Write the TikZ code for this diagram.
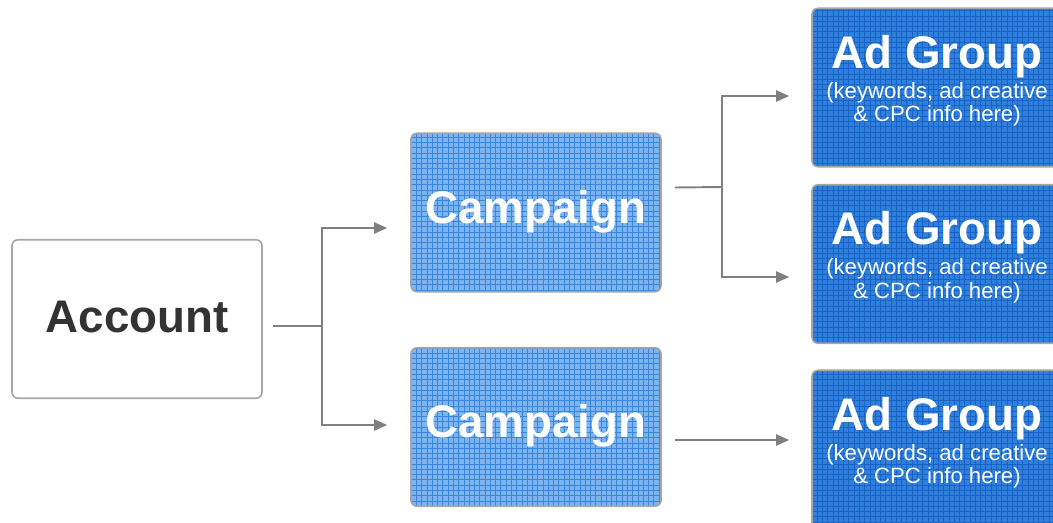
\documentclass[tikz,border=0pt]{standalone}
\usepackage{fontspec}
\setmainfont{Liberation Sans}
\usetikzlibrary{arrows.meta,patterns}
\definecolor{boxline}{HTML}{A6A6A6}
\definecolor{linkgrey}{HTML}{7F7F7F}
\definecolor{acctext}{HTML}{333333}
\definecolor{campfill}{HTML}{7DB3EE}
\definecolor{campgrid}{HTML}{3A86DA}
\definecolor{adfill}{HTML}{2F80DC}
\definecolor{adgrid}{HTML}{1A63C6}
\newcommand{\bigfont}{\fontsize{26}{30}\selectfont\bfseries}
\newcommand{\subfont}{\fontsize{12.6}{13.6}\selectfont\mdseries}
\begin{document}
\begin{tikzpicture}[
  box/.style={draw=boxline,line width=0.9pt,rounded corners=1.2mm,align=center,minimum width=5.0cm,minimum height=3.17cm},
  campbox/.style={box,preaction={fill=campfill},pattern=grid,pattern color=campgrid,text=white,font=\bigfont},
  adbox/.style={box,preaction={fill=adfill},pattern=grid,pattern color=adgrid,text=white},
  link/.style={draw=linkgrey,line width=1.1pt},
  arrow/.style={link,-{Triangle[length=2.6mm,width=2.2mm]}}]
\useasboundingbox (0,0) rectangle (21.06,-10.44);

\node[box,font=\bigfont,text=acctext] (acc) at (2.74,-6.38) {Account\rule[-1mm]{0pt}{0pt}};

\node[campbox] (camp1) at (10.72,-4.25) {Campaign\rule[-2.4mm]{0pt}{0pt}};
\node[campbox] (camp2) at (10.72,-8.54) {Campaign\rule[-2.4mm]{0pt}{0pt}};

\node[adbox] (ad1) at (18.74,-1.75) {\bigfont Ad Group\\[1.5pt]\subfont (keywords, ad creative\\[1.5pt] \subfont \& CPC info here)\rule[-3.6mm]{0pt}{0pt}};
\node[adbox] (ad2) at (18.74,-5.28) {\bigfont Ad Group\\[1.5pt]\subfont (keywords, ad creative\\[1.5pt] \subfont \& CPC info here)\rule[-3.6mm]{0pt}{0pt}};
\node[adbox] (ad3) at (18.74,-8.99) {\bigfont Ad Group\\[1.5pt]\subfont (keywords, ad creative\\[1.5pt] \subfont \& CPC info here)\rule[-3.6mm]{0pt}{0pt}};

\coordinate (fork1) at (6.44,-6.52);
\coordinate (fork2) at (14.44,-3.74);

\draw[link] ([xshift=2mm,yshift=-1.4mm]acc.east) -- (fork1);
\draw[arrow] (fork1) |- ([xshift=-4.6mm,yshift=-3.1mm]camp1.west);
\draw[arrow] (fork1) |- ([xshift=-4.6mm,yshift=0.4mm]camp2.west);

\draw[link] ([xshift=2.6mm,yshift=5mm]camp1.east) -- (fork2);
\draw[arrow] (fork2) |- ([xshift=-4.4mm,yshift=-1.7mm]ad1.west);
\draw[arrow] (fork2) |- ([xshift=-4.4mm,yshift=-2.6mm]ad2.west);

\draw[arrow] ([xshift=2.6mm,yshift=-2.6mm]camp2.east) -- ([xshift=-4.4mm,yshift=-2.6mm]camp2.east -| ad3.west);
\end{tikzpicture}
\end{document}
